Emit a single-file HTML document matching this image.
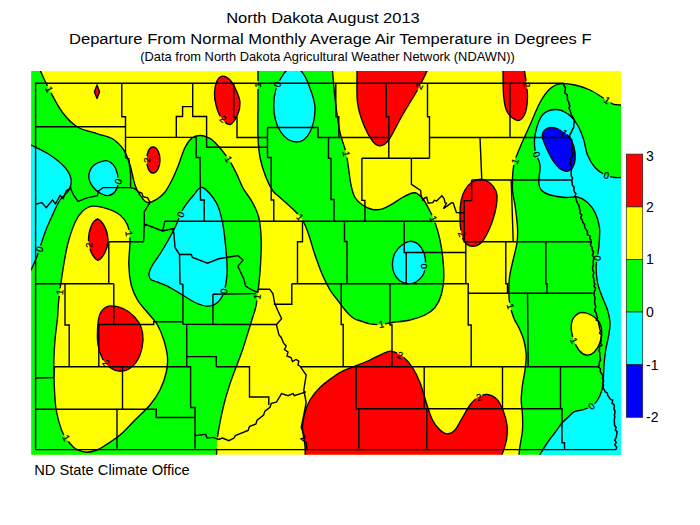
<!DOCTYPE html>
<html><head><meta charset="utf-8"><title>ND Climate</title>
<style>html,body{margin:0;padding:0;background:#fff}svg{display:block}text{font-family:"Liberation Sans",sans-serif;fill:#000}</style></head>
<body>
<svg width="700" height="525" viewBox="0 0 700 525">
<rect width="700" height="525" fill="#fff"/>
<defs><clipPath id="m"><rect x="31.2" y="71.1" width="589.8" height="383.6"/></clipPath></defs>
<g clip-path="url(#m)">
<rect x="31.2" y="71.1" width="589.8" height="383.6" fill="#ffff00"/>
<mask id="lm" maskUnits="userSpaceOnUse" x="0" y="0" width="700" height="525"><rect width="700" height="525" fill="#fff"/>
<circle cx="49.2" cy="89.3" r="3.9" fill="#000"/>
<circle cx="146.75" cy="160" r="3.9" fill="#000"/>
<circle cx="118.2" cy="181.4" r="3.9" fill="#000"/>
<circle cx="222.9" cy="119.0" r="3.9" fill="#000"/>
<circle cx="258.0" cy="85.0" r="3.9" fill="#000"/>
<circle cx="277.3" cy="84.5" r="3.9" fill="#000"/>
<circle cx="228.5" cy="159.2" r="3.9" fill="#000"/>
<circle cx="346.2" cy="153.9" r="3.9" fill="#000"/>
<circle cx="419.3" cy="86.4" r="3.9" fill="#000"/>
<circle cx="526.5" cy="84.9" r="3.9" fill="#000"/>
<circle cx="607.2" cy="100.4" r="3.9" fill="#000"/>
<circle cx="562.9" cy="131.6" r="5.2" fill="#000"/>
<circle cx="536.5" cy="154.4" r="3.9" fill="#000"/>
<circle cx="515.1" cy="161.3" r="3.9" fill="#000"/>
<circle cx="606.5" cy="175.4" r="3.9" fill="#000"/>
<circle cx="180.6" cy="214.4" r="3.9" fill="#000"/>
<circle cx="129.0" cy="233.7" r="3.9" fill="#000"/>
<circle cx="88.75" cy="245" r="3.9" fill="#000"/>
<circle cx="39.5" cy="249.1" r="3.9" fill="#000"/>
<circle cx="59.8" cy="292.2" r="3.9" fill="#000"/>
<circle cx="300.1" cy="217.3" r="3.9" fill="#000"/>
<circle cx="224.0" cy="291.3" r="3.9" fill="#000"/>
<circle cx="257.3" cy="296.7" r="3.9" fill="#000"/>
<circle cx="424.25" cy="266.25" r="3.9" fill="#000"/>
<circle cx="433.4" cy="218.9" r="3.9" fill="#000"/>
<circle cx="461.9" cy="234.1" r="3.9" fill="#000"/>
<circle cx="597.2" cy="258.1" r="3.9" fill="#000"/>
<circle cx="510.4" cy="306.3" r="3.9" fill="#000"/>
<circle cx="106.2" cy="363.1" r="3.9" fill="#000"/>
<circle cx="66.2" cy="438.0" r="3.9" fill="#000"/>
<circle cx="381.3" cy="324.3" r="3.9" fill="#000"/>
<circle cx="400.2" cy="355.2" r="3.9" fill="#000"/>
<circle cx="479.0" cy="397.1" r="3.9" fill="#000"/>
<circle cx="574.0" cy="340.6" r="3.9" fill="#000"/>
<circle cx="591.5" cy="406.1" r="3.9" fill="#000"/>
<ellipse cx="217.3" cy="443" rx="3" ry="6" fill="#000"/>
</mask>
<g>
<path fill="#00ff00" d="M40.5,68.0 C40.5,68.5 38.9,67.2 40.5,71.0 C42.1,74.8 46.3,84.1 50.0,91.0 C53.7,97.9 57.9,106.5 62.5,112.5 C67.1,118.5 71.7,123.5 77.5,127.0 C83.3,130.5 91.7,131.8 97.5,133.8 C103.3,135.7 108.1,136.0 112.5,138.8 C116.9,141.5 120.8,145.6 123.8,150.0 C126.7,154.4 128.1,159.2 130.0,165.0 C131.9,170.8 133.3,180.0 135.0,185.0 C136.7,190.0 137.9,192.1 140.0,195.0 C142.1,197.9 144.6,201.9 147.5,202.5 C150.4,203.1 154.6,200.5 157.5,198.8 C160.4,197.0 162.6,195.1 165.0,192.0 C167.4,188.9 169.9,184.1 172.0,180.0 C174.1,175.9 175.3,172.9 177.5,167.5 C179.7,162.1 182.6,152.4 185.0,147.5 C187.4,142.6 189.5,140.0 192.0,138.0 C194.5,136.0 197.3,135.6 200.0,135.5 C202.7,135.4 205.5,136.3 208.0,137.5 C210.5,138.7 211.8,139.2 215.0,142.5 C218.2,145.8 224.0,152.5 227.5,157.5 C231.0,162.5 233.4,167.4 236.0,172.5 C238.6,177.6 240.2,183.0 243.0,188.0 C245.8,193.0 249.9,197.6 252.5,202.5 C255.1,207.4 257.3,211.2 258.8,217.5 C260.2,223.8 261.0,232.1 261.2,240.0 C261.5,247.9 260.9,257.5 260.5,265.0 C260.1,272.5 259.5,278.3 258.8,285.0 C258.0,291.7 257.3,299.5 256.2,305.0 C255.2,310.5 253.8,313.8 252.5,318.0 C251.2,322.2 250.4,324.7 248.8,330.0 C247.1,335.3 244.8,343.3 242.5,350.0 C240.2,356.7 237.3,363.8 235.0,370.0 C232.7,376.2 230.6,381.7 228.8,387.5 C226.9,393.3 225.2,399.2 223.8,405.0 C222.3,410.8 221.0,417.1 220.0,422.5 C219.0,427.9 218.1,432.2 217.5,437.5 C216.9,442.8 216.7,451.1 216.5,454.5 C216.3,457.9 216.5,457.4 216.5,458.0 L26.2,459.7 L26.2,66.1Z"/>
<path fill="#00ff00" d="M258.0,66.0 C258.0,71.7 258.0,88.1 258.0,100.0 C258.0,111.9 257.7,127.9 258.0,137.5 C258.3,147.1 258.7,150.8 260.0,157.5 C261.3,164.2 263.8,171.9 266.0,177.5 C268.2,183.1 270.7,187.7 273.0,191.0 C275.3,194.3 276.8,194.5 280.0,197.5 C283.2,200.5 288.8,205.0 292.5,208.8 C296.2,212.5 299.8,215.6 302.5,220.0 C305.2,224.4 306.7,229.2 308.8,235.0 C310.8,240.8 312.7,248.3 315.0,255.0 C317.3,261.7 320.0,269.2 322.5,275.0 C325.0,280.8 327.5,285.8 330.0,290.0 C332.5,294.2 335.0,296.7 337.5,300.0 C340.0,303.3 342.5,307.1 345.0,310.0 C347.5,312.9 350.4,315.8 352.5,317.5 C354.6,319.2 354.6,319.0 357.5,320.0 C360.4,321.0 366.2,323.0 370.0,323.8 C373.8,324.5 376.2,324.7 380.0,324.5 C383.8,324.3 387.5,323.2 392.5,322.5 C397.5,321.8 404.6,321.2 410.0,320.0 C415.4,318.8 420.8,317.1 425.0,315.0 C429.2,312.9 432.3,310.8 435.0,307.5 C437.7,304.2 439.8,300.0 441.2,295.0 C442.7,290.0 443.5,283.3 443.8,277.5 C444.0,271.7 443.6,266.2 443.0,260.0 C442.4,253.8 441.3,246.2 440.0,240.0 C438.7,233.8 436.7,227.3 435.0,222.5 C433.3,217.7 431.9,215.0 430.0,211.2 C428.1,207.5 425.8,202.9 423.8,200.0 C421.7,197.1 419.4,194.9 417.5,193.8 C415.6,192.6 415.0,192.4 412.5,193.0 C410.0,193.6 405.8,195.7 402.5,197.5 C399.2,199.3 395.8,201.9 392.5,203.8 C389.2,205.6 385.8,207.8 382.5,208.8 C379.2,209.7 375.8,210.1 372.5,209.5 C369.2,208.9 365.4,207.0 362.5,205.0 C359.6,203.0 356.9,200.8 355.0,197.5 C353.1,194.2 352.0,189.6 351.0,185.0 C350.0,180.4 349.6,175.4 348.8,170.0 C347.9,164.6 347.5,158.8 346.0,152.5 C344.5,146.2 341.8,140.8 340.0,132.5 C338.2,124.2 336.8,112.8 335.5,102.5 C334.2,92.2 333.1,77.1 332.5,71.0 C331.9,64.9 332.1,66.8 332.0,66.0Z"/>
<path fill="#00ff00" d="M518.5,458.0 C518.6,457.4 518.8,456.5 519.0,454.5 C519.2,452.5 519.4,450.1 520.0,446.0 C520.6,441.9 522.1,435.2 522.5,430.0 C522.9,424.8 522.7,420.0 522.5,415.0 C522.3,410.0 521.2,405.0 521.2,400.0 C521.2,395.0 521.9,390.0 522.5,385.0 C523.1,380.0 524.4,375.0 525.0,370.0 C525.6,365.0 526.5,360.0 526.2,355.0 C526.0,350.0 525.0,344.6 523.8,340.0 C522.5,335.4 520.4,331.2 518.8,327.5 C517.1,323.8 515.2,321.8 513.8,318.0 C512.3,314.2 510.8,309.2 510.0,305.0 C509.2,300.8 508.8,297.1 508.8,292.5 C508.7,287.9 508.9,282.5 509.5,277.5 C510.1,272.5 511.2,268.3 512.5,262.5 C513.8,256.7 516.2,248.3 517.0,242.5 C517.8,236.7 517.8,233.8 517.5,227.5 C517.2,221.2 515.8,211.2 515.0,205.0 C514.2,198.8 512.7,196.7 512.5,190.0 C512.3,183.3 512.5,172.1 513.8,165.0 C515.0,157.9 517.3,154.2 520.0,147.5 C522.7,140.8 526.7,132.5 530.0,125.0 C533.3,117.5 536.7,108.5 540.0,102.5 C543.3,96.5 546.7,91.9 550.0,88.8 C553.3,85.6 555.8,84.4 560.0,83.8 C564.2,83.1 570.0,84.0 575.0,85.0 C580.0,86.0 585.4,87.9 590.0,90.0 C594.6,92.1 598.8,95.2 602.5,97.5 C606.2,99.8 609.4,102.5 612.5,103.8 C615.6,105.0 618.8,104.8 621.0,105.0 C623.2,105.2 625.2,105.0 626.0,105.0 L626,459.7Z"/>
<path fill="#ffff00" d="M86.7,452.2 C83.5,452.2 80.3,450.9 78.0,450.0 C75.7,449.1 74.8,448.4 73.0,446.7 C71.2,445.0 69.2,442.8 67.3,440.0 C65.4,437.2 63.3,435.0 61.5,430.0 C59.7,425.0 57.4,416.7 56.2,410.0 C55.1,403.3 54.9,397.5 54.5,390.0 C54.1,382.5 53.7,373.3 53.8,365.0 C53.8,356.7 54.4,347.8 55.0,340.0 C55.6,332.2 56.9,324.7 57.5,318.0 C58.1,311.3 57.9,307.6 58.8,300.0 C59.6,292.4 61.0,281.7 62.5,272.5 C64.0,263.3 65.4,253.3 67.5,245.0 C69.6,236.7 72.5,228.1 75.0,222.5 C77.5,216.9 79.6,214.0 82.5,211.2 C85.4,208.5 88.3,206.7 92.5,206.2 C96.7,205.8 102.9,207.3 107.5,208.8 C112.1,210.2 116.7,212.3 120.0,215.0 C123.3,217.7 125.8,220.8 127.5,225.0 C129.2,229.2 129.8,233.3 130.0,240.0 C130.2,246.7 128.5,257.5 128.8,265.0 C129.0,272.5 129.8,279.2 131.2,285.0 C132.7,290.8 134.8,295.4 137.5,300.0 C140.2,304.6 144.2,308.3 147.5,312.5 C150.8,316.7 154.8,320.4 157.5,325.0 C160.2,329.6 162.1,334.6 163.8,340.0 C165.4,345.4 167.1,352.1 167.5,357.5 C167.9,362.9 167.5,367.1 166.2,372.5 C165.0,377.9 162.7,384.6 160.0,390.0 C157.3,395.4 154.2,400.0 150.0,405.0 C145.8,410.0 140.0,415.0 135.0,420.0 C130.0,425.0 125.0,430.8 120.0,435.0 C115.0,439.2 108.8,443.0 105.0,445.5 C101.2,448.0 100.0,448.9 97.0,450.0 C94.0,451.1 89.9,452.2 86.7,452.2Z"/>
<path fill="#ffff00" d="M582.5,312.5 C586.0,312.5 591.9,315.0 595.0,317.5 C598.1,320.0 600.4,323.3 601.2,327.5 C602.1,331.7 601.2,338.3 600.0,342.5 C598.8,346.7 596.0,350.4 593.8,352.5 C591.5,354.6 588.8,355.4 586.2,355.0 C583.8,354.6 580.8,352.5 578.8,350.0 C576.7,347.5 575.0,343.8 573.8,340.0 C572.5,336.2 571.2,331.2 571.2,327.5 C571.2,323.8 571.9,320.0 573.8,317.5 C575.6,315.0 579.0,312.5 582.5,312.5Z"/>
<path fill="#00ffff" d="M26.0,142.0 C26.8,142.5 27.0,142.8 31.0,145.0 C35.0,147.2 44.3,151.2 50.0,155.0 C55.7,158.8 61.5,163.5 65.0,167.5 C68.5,171.5 70.3,175.2 71.0,179.0 C71.7,182.8 70.8,186.5 69.0,190.0 C67.2,193.5 62.8,195.8 60.0,200.0 C57.2,204.2 55.0,209.6 52.5,215.0 C50.0,220.4 47.5,225.8 45.0,232.5 C42.5,239.2 39.8,248.8 37.5,255.0 C35.2,261.2 32.9,265.8 31.0,270.0 C29.1,274.2 26.8,278.3 26.0,280.0Z"/>
<path fill="#00ffff" d="M104.0,160.8 C101.2,161.4 95.5,163.3 93.0,166.0 C90.5,168.7 88.8,173.5 88.8,177.0 C88.8,180.5 91.1,184.3 93.0,187.0 C94.9,189.7 97.5,191.6 100.0,193.0 C102.5,194.4 105.4,195.9 108.0,195.6 C110.6,195.3 113.8,193.4 115.5,191.0 C117.2,188.6 118.3,184.8 118.3,181.0 C118.3,177.2 116.9,171.2 115.5,168.0 C114.1,164.8 111.9,163.2 110.0,162.0 C108.1,160.8 106.8,160.1 104.0,160.8Z"/>
<path fill="#00ffff" d="M202.5,187.5 C206.2,188.8 212.9,196.7 216.2,202.5 C219.6,208.3 220.8,214.2 222.5,222.5 C224.2,230.8 225.5,243.8 226.2,252.5 C227.0,261.2 227.4,268.3 227.0,275.0 C226.6,281.7 225.3,287.9 223.8,292.5 C222.2,297.1 220.2,300.2 217.5,302.5 C214.8,304.8 211.2,306.2 207.5,306.2 C203.8,306.2 199.2,304.4 195.0,302.5 C190.8,300.6 187.1,297.7 182.5,295.0 C177.9,292.3 171.7,288.4 167.5,286.2 C163.3,284.1 160.2,283.1 157.4,282.0 C154.6,280.9 152.3,280.8 150.9,279.6 C149.5,278.4 149.1,276.4 148.9,275.0 C148.7,273.6 149.1,272.7 149.7,271.0 C150.3,269.3 150.4,268.5 152.5,265.0 C154.6,261.5 158.8,256.2 162.5,250.0 C166.2,243.8 171.7,234.2 175.0,227.5 C178.3,220.8 179.4,215.4 182.5,210.0 C185.6,204.6 190.4,198.8 193.8,195.0 C197.1,191.2 198.8,186.2 202.5,187.5Z"/>
<path fill="#00ffff" d="M293.5,67 C300,67 306,76 309.5,87 C313,96 315,102 315,108 C315,126 308,142 297,142 C284,142 273.75,126 273.75,106 C273.75,95 277,84 281,78 C285,71 289,67 293.5,67Z"/>
<path fill="#00ffff" d="M410.0,241.3 C412.7,241.1 415.7,242.1 418.0,244.0 C420.3,245.9 422.8,249.7 424.0,253.0 C425.2,256.3 425.7,260.3 425.5,264.0 C425.3,267.7 424.6,272.0 423.0,275.0 C421.4,278.0 418.5,280.5 416.0,282.0 C413.5,283.5 410.7,283.9 408.0,283.8 C405.3,283.6 402.3,282.8 400.0,281.0 C397.7,279.2 395.2,276.0 394.0,273.0 C392.8,270.0 392.3,266.3 392.5,263.0 C392.7,259.7 393.4,256.0 395.0,253.0 C396.6,250.0 399.5,246.9 402.0,245.0 C404.5,243.1 407.3,241.5 410.0,241.3Z"/>
<path fill="#00ffff" d="M626.0,177.5 C625.2,177.5 622.8,177.5 621.0,177.5 C619.2,177.5 617.7,177.9 615.0,177.5 C612.3,177.1 608.3,176.7 605.0,175.0 C601.7,173.3 597.9,170.8 595.0,167.5 C592.1,164.2 589.4,159.6 587.5,155.0 C585.6,150.4 585.4,145.0 583.8,140.0 C582.1,135.0 580.2,129.4 577.5,125.0 C574.8,120.6 571.2,116.3 567.5,113.8 C563.8,111.2 559.2,109.3 555.0,109.5 C550.8,109.7 545.8,111.2 542.5,115.0 C539.2,118.8 536.8,126.7 535.5,132.5 C534.2,138.3 534.2,144.6 535.0,150.0 C535.8,155.4 539.4,159.6 540.0,165.0 C540.6,170.4 538.5,178.3 538.8,182.5 C539.0,186.7 539.4,187.9 541.2,190.0 C543.1,192.1 546.0,193.8 550.0,195.0 C554.0,196.2 560.4,197.2 565.0,197.5 C569.6,197.8 573.8,196.2 577.5,197.0 C581.2,197.8 584.6,199.9 587.5,202.5 C590.4,205.1 593.0,208.3 595.0,212.5 C597.0,216.7 598.9,221.7 599.5,227.5 C600.1,233.3 599.3,241.2 598.8,247.5 C598.2,253.8 596.5,259.2 596.2,265.0 C596.0,270.8 596.5,277.1 597.5,282.5 C598.5,287.9 600.8,292.9 602.5,297.5 C604.2,302.1 606.2,305.8 607.5,310.0 C608.8,314.2 609.8,318.3 610.0,322.5 C610.2,326.7 609.5,330.4 608.8,335.0 C608.0,339.6 606.5,345.0 605.7,350.0 C604.9,355.0 604.4,360.0 604.0,365.0 C603.6,370.0 603.6,375.8 603.3,380.0 C603.0,384.2 603.0,386.5 602.0,390.0 C601.0,393.5 598.8,398.2 597.0,401.0 C595.2,403.8 593.3,405.1 591.0,406.5 C588.7,407.9 585.8,408.8 583.0,409.7 C580.2,410.6 576.4,410.6 574.0,411.8 C571.6,413.0 570.4,415.1 568.4,417.0 C566.4,418.9 564.2,420.4 562.0,423.0 C559.8,425.6 557.4,429.2 555.0,432.5 C552.6,435.8 550.0,438.8 547.5,442.5 C545.0,446.2 541.6,451.9 540.0,454.5 C538.4,457.1 538.3,457.4 538.0,458.0 L626,459.7Z"/>
<path fill="#0000ff" d="M543.8,131.2 C545.2,129.6 548.1,127.5 551.2,127.5 C554.4,127.5 559.2,129.2 562.5,131.2 C565.8,133.3 569.2,136.5 571.2,140.0 C573.3,143.5 574.6,148.3 575.0,152.5 C575.4,156.7 575.0,161.9 573.8,165.0 C572.5,168.1 569.8,170.6 567.5,171.2 C565.2,171.9 562.5,170.6 560.0,168.8 C557.5,166.9 554.8,163.5 552.5,160.0 C550.2,156.5 547.9,151.2 546.2,147.5 C544.6,143.8 542.9,140.2 542.5,137.5 C542.1,134.8 542.3,132.9 543.8,131.2Z"/>
<path fill="#ff0000" d="M97,85 L99.6,91.75 L97,98.5 L94.4,91.75Z"/>
<path fill="#ff0000" d="M153,147 C157,147 160,153 160,160 C160,167 157,173 153,173 C149,173 146.75,167 146.75,160 C146.75,153 149,147 153,147Z"/>
<path fill="#ff0000" d="M222.5,76.2 C224.7,76.1 227.8,77.7 230.0,80.0 C232.2,82.3 234.3,86.2 236.0,90.0 C237.7,93.8 239.8,98.3 240.0,102.5 C240.2,106.7 239.2,111.3 237.5,115.0 C235.8,118.7 232.8,124.1 230.0,124.5 C227.2,124.9 223.3,120.8 221.0,117.5 C218.7,114.2 217.1,109.2 216.0,105.0 C214.9,100.8 214.3,96.5 214.5,92.5 C214.7,88.5 215.7,83.7 217.0,81.0 C218.3,78.3 220.3,76.4 222.5,76.2Z"/>
<path fill="#ff0000" d="M357.0,60.0 C357.0,61.8 356.9,63.9 357.0,71.0 C357.1,78.1 356.4,93.5 357.5,102.5 C358.6,111.5 361.2,118.6 363.8,125.0 C366.2,131.4 369.8,137.5 372.5,141.0 C375.2,144.5 377.3,145.9 380.0,145.8 C382.7,145.6 385.0,145.1 388.8,140.0 C392.5,134.9 397.7,123.3 402.5,115.0 C407.3,106.7 413.4,97.3 417.5,90.0 C421.6,82.7 424.6,76.0 427.0,71.0 C429.4,66.0 431.2,61.8 432.0,60.0Z"/>
<path fill="#ff0000" d="M503.0,60.0 C503.0,61.8 502.9,64.8 503.0,71.0 C503.1,77.2 503.0,90.6 503.8,97.5 C504.5,104.4 505.2,108.7 507.5,112.5 C509.8,116.3 514.6,120.3 517.5,120.5 C520.4,120.7 523.3,117.6 525.0,113.8 C526.7,109.9 527.3,102.7 527.5,97.5 C527.7,92.3 526.8,86.9 526.2,82.5 C525.8,78.1 525.0,74.8 524.5,71.0 C524.0,67.2 523.2,61.8 523.0,60.0Z"/>
<path fill="#ff0000" d="M481.2,179.2 C484.2,179.4 487.5,181.0 490.0,183.0 C492.5,185.0 494.8,188.2 496.0,191.0 C497.2,193.8 497.2,196.4 497.0,200.0 C496.8,203.6 496.2,207.9 495.0,212.5 C493.8,217.1 492.1,222.7 490.0,227.5 C487.9,232.3 485.2,238.1 482.5,241.2 C479.8,244.4 476.7,246.0 473.8,246.2 C470.8,246.5 467.1,244.8 465.0,242.5 C462.9,240.2 462.1,237.1 461.2,232.5 C460.4,227.9 460.0,220.4 460.0,215.0 C460.0,209.6 460.4,204.2 461.2,200.0 C462.1,195.8 463.2,193.0 465.0,190.0 C466.8,187.0 469.3,183.8 472.0,182.0 C474.7,180.2 478.2,179.1 481.2,179.2Z"/>
<path fill="#ff0000" d="M97.5,219 C102,220.5 107.5,229 108,240 C108,249 103,258 98,260.5 C93,258 88.5,249 88.5,240 C88.5,229 93,220.5 97.5,219Z"/>
<path fill="#ff0000" d="M108.8,306.2 C104.8,307.1 101.9,310.0 100.0,314.0 C98.1,318.0 97.8,324.8 97.5,330.0 C97.2,335.2 97.2,340.2 98.0,345.0 C98.8,349.8 100.5,355.0 102.5,358.8 C104.5,362.5 106.9,365.4 110.0,367.5 C113.1,369.6 117.5,371.5 121.2,371.2 C125.0,371.0 129.4,369.0 132.5,366.2 C135.6,363.5 138.2,359.4 140.0,355.0 C141.8,350.6 142.8,344.6 143.0,340.0 C143.2,335.4 142.6,331.2 141.2,327.5 C139.9,323.8 137.9,320.6 135.0,317.5 C132.1,314.4 128.4,310.9 124.0,309.0 C119.6,307.1 112.8,305.4 108.8,306.2Z"/>
<path fill="#ff0000" d="M305.0,458.0 C305.0,456.0 305.4,451.1 305.0,446.0 C304.6,440.9 302.5,433.1 302.5,427.5 C302.5,421.9 303.8,417.1 305.0,412.5 C306.2,407.9 307.5,404.2 310.0,400.0 C312.5,395.8 316.2,391.2 320.0,387.5 C323.8,383.8 328.8,380.2 332.5,377.5 C336.2,374.8 338.8,373.1 342.5,371.2 C346.2,369.4 350.4,368.1 355.0,366.2 C359.6,364.4 365.4,362.1 370.0,360.0 C374.6,357.9 379.0,355.2 382.5,353.8 C386.0,352.3 387.9,350.8 391.2,351.2 C394.6,351.7 399.0,353.5 402.5,356.2 C406.0,359.0 409.6,363.1 412.5,367.5 C415.4,371.9 417.7,376.7 420.0,382.5 C422.3,388.3 424.2,396.2 426.2,402.5 C428.3,408.8 430.2,415.4 432.5,420.0 C434.8,424.6 437.5,427.7 440.0,430.0 C442.5,432.3 445.0,433.8 447.5,433.8 C450.0,433.8 452.5,432.7 455.0,430.0 C457.5,427.3 460.0,421.7 462.5,417.5 C465.0,413.3 467.5,408.3 470.0,405.0 C472.5,401.7 474.6,399.2 477.5,397.5 C480.4,395.8 484.2,394.1 487.5,394.5 C490.8,394.9 494.8,397.0 497.5,400.0 C500.2,403.0 502.2,408.3 503.8,412.5 C505.3,416.7 506.5,420.4 507.0,425.0 C507.5,429.6 507.2,435.5 506.5,440.0 C505.8,444.5 504.0,449.0 503.0,452.0 C502.0,455.0 500.9,457.0 500.5,458.0Z"/>
</g>
<g fill="none" stroke="#000" stroke-width="1.35" stroke-linejoin="round" mask="url(#lm)">
<path d="M40.5,68.0 C40.5,68.5 38.9,67.2 40.5,71.0 C42.1,74.8 46.3,84.1 50.0,91.0 C53.7,97.9 57.9,106.5 62.5,112.5 C67.1,118.5 71.7,123.5 77.5,127.0 C83.3,130.5 91.7,131.8 97.5,133.8 C103.3,135.7 108.1,136.0 112.5,138.8 C116.9,141.5 120.8,145.6 123.8,150.0 C126.7,154.4 128.1,159.2 130.0,165.0 C131.9,170.8 133.3,180.0 135.0,185.0 C136.7,190.0 137.9,192.1 140.0,195.0 C142.1,197.9 144.6,201.9 147.5,202.5 C150.4,203.1 154.6,200.5 157.5,198.8 C160.4,197.0 162.6,195.1 165.0,192.0 C167.4,188.9 169.9,184.1 172.0,180.0 C174.1,175.9 175.3,172.9 177.5,167.5 C179.7,162.1 182.6,152.4 185.0,147.5 C187.4,142.6 189.5,140.0 192.0,138.0 C194.5,136.0 197.3,135.6 200.0,135.5 C202.7,135.4 205.5,136.3 208.0,137.5 C210.5,138.7 211.8,139.2 215.0,142.5 C218.2,145.8 224.0,152.5 227.5,157.5 C231.0,162.5 233.4,167.4 236.0,172.5 C238.6,177.6 240.2,183.0 243.0,188.0 C245.8,193.0 249.9,197.6 252.5,202.5 C255.1,207.4 257.3,211.2 258.8,217.5 C260.2,223.8 261.0,232.1 261.2,240.0 C261.5,247.9 260.9,257.5 260.5,265.0 C260.1,272.5 259.5,278.3 258.8,285.0 C258.0,291.7 257.3,299.5 256.2,305.0 C255.2,310.5 253.8,313.8 252.5,318.0 C251.2,322.2 250.4,324.7 248.8,330.0 C247.1,335.3 244.8,343.3 242.5,350.0 C240.2,356.7 237.3,363.8 235.0,370.0 C232.7,376.2 230.6,381.7 228.8,387.5 C226.9,393.3 225.2,399.2 223.8,405.0 C222.3,410.8 221.0,417.1 220.0,422.5 C219.0,427.9 218.1,432.2 217.5,437.5 C216.9,442.8 216.7,451.1 216.5,454.5 C216.3,457.9 216.5,457.4 216.5,458.0 L26.2,459.7 L26.2,66.1Z"/>
<path d="M258.0,66.0 C258.0,71.7 258.0,88.1 258.0,100.0 C258.0,111.9 257.7,127.9 258.0,137.5 C258.3,147.1 258.7,150.8 260.0,157.5 C261.3,164.2 263.8,171.9 266.0,177.5 C268.2,183.1 270.7,187.7 273.0,191.0 C275.3,194.3 276.8,194.5 280.0,197.5 C283.2,200.5 288.8,205.0 292.5,208.8 C296.2,212.5 299.8,215.6 302.5,220.0 C305.2,224.4 306.7,229.2 308.8,235.0 C310.8,240.8 312.7,248.3 315.0,255.0 C317.3,261.7 320.0,269.2 322.5,275.0 C325.0,280.8 327.5,285.8 330.0,290.0 C332.5,294.2 335.0,296.7 337.5,300.0 C340.0,303.3 342.5,307.1 345.0,310.0 C347.5,312.9 350.4,315.8 352.5,317.5 C354.6,319.2 354.6,319.0 357.5,320.0 C360.4,321.0 366.2,323.0 370.0,323.8 C373.8,324.5 376.2,324.7 380.0,324.5 C383.8,324.3 387.5,323.2 392.5,322.5 C397.5,321.8 404.6,321.2 410.0,320.0 C415.4,318.8 420.8,317.1 425.0,315.0 C429.2,312.9 432.3,310.8 435.0,307.5 C437.7,304.2 439.8,300.0 441.2,295.0 C442.7,290.0 443.5,283.3 443.8,277.5 C444.0,271.7 443.6,266.2 443.0,260.0 C442.4,253.8 441.3,246.2 440.0,240.0 C438.7,233.8 436.7,227.3 435.0,222.5 C433.3,217.7 431.9,215.0 430.0,211.2 C428.1,207.5 425.8,202.9 423.8,200.0 C421.7,197.1 419.4,194.9 417.5,193.8 C415.6,192.6 415.0,192.4 412.5,193.0 C410.0,193.6 405.8,195.7 402.5,197.5 C399.2,199.3 395.8,201.9 392.5,203.8 C389.2,205.6 385.8,207.8 382.5,208.8 C379.2,209.7 375.8,210.1 372.5,209.5 C369.2,208.9 365.4,207.0 362.5,205.0 C359.6,203.0 356.9,200.8 355.0,197.5 C353.1,194.2 352.0,189.6 351.0,185.0 C350.0,180.4 349.6,175.4 348.8,170.0 C347.9,164.6 347.5,158.8 346.0,152.5 C344.5,146.2 341.8,140.8 340.0,132.5 C338.2,124.2 336.8,112.8 335.5,102.5 C334.2,92.2 333.1,77.1 332.5,71.0 C331.9,64.9 332.1,66.8 332.0,66.0Z"/>
<path d="M518.5,458.0 C518.6,457.4 518.8,456.5 519.0,454.5 C519.2,452.5 519.4,450.1 520.0,446.0 C520.6,441.9 522.1,435.2 522.5,430.0 C522.9,424.8 522.7,420.0 522.5,415.0 C522.3,410.0 521.2,405.0 521.2,400.0 C521.2,395.0 521.9,390.0 522.5,385.0 C523.1,380.0 524.4,375.0 525.0,370.0 C525.6,365.0 526.5,360.0 526.2,355.0 C526.0,350.0 525.0,344.6 523.8,340.0 C522.5,335.4 520.4,331.2 518.8,327.5 C517.1,323.8 515.2,321.8 513.8,318.0 C512.3,314.2 510.8,309.2 510.0,305.0 C509.2,300.8 508.8,297.1 508.8,292.5 C508.7,287.9 508.9,282.5 509.5,277.5 C510.1,272.5 511.2,268.3 512.5,262.5 C513.8,256.7 516.2,248.3 517.0,242.5 C517.8,236.7 517.8,233.8 517.5,227.5 C517.2,221.2 515.8,211.2 515.0,205.0 C514.2,198.8 512.7,196.7 512.5,190.0 C512.3,183.3 512.5,172.1 513.8,165.0 C515.0,157.9 517.3,154.2 520.0,147.5 C522.7,140.8 526.7,132.5 530.0,125.0 C533.3,117.5 536.7,108.5 540.0,102.5 C543.3,96.5 546.7,91.9 550.0,88.8 C553.3,85.6 555.8,84.4 560.0,83.8 C564.2,83.1 570.0,84.0 575.0,85.0 C580.0,86.0 585.4,87.9 590.0,90.0 C594.6,92.1 598.8,95.2 602.5,97.5 C606.2,99.8 609.4,102.5 612.5,103.8 C615.6,105.0 618.8,104.8 621.0,105.0 C623.2,105.2 625.2,105.0 626.0,105.0 L626,459.7Z"/>
<path d="M86.7,452.2 C83.5,452.2 80.3,450.9 78.0,450.0 C75.7,449.1 74.8,448.4 73.0,446.7 C71.2,445.0 69.2,442.8 67.3,440.0 C65.4,437.2 63.3,435.0 61.5,430.0 C59.7,425.0 57.4,416.7 56.2,410.0 C55.1,403.3 54.9,397.5 54.5,390.0 C54.1,382.5 53.7,373.3 53.8,365.0 C53.8,356.7 54.4,347.8 55.0,340.0 C55.6,332.2 56.9,324.7 57.5,318.0 C58.1,311.3 57.9,307.6 58.8,300.0 C59.6,292.4 61.0,281.7 62.5,272.5 C64.0,263.3 65.4,253.3 67.5,245.0 C69.6,236.7 72.5,228.1 75.0,222.5 C77.5,216.9 79.6,214.0 82.5,211.2 C85.4,208.5 88.3,206.7 92.5,206.2 C96.7,205.8 102.9,207.3 107.5,208.8 C112.1,210.2 116.7,212.3 120.0,215.0 C123.3,217.7 125.8,220.8 127.5,225.0 C129.2,229.2 129.8,233.3 130.0,240.0 C130.2,246.7 128.5,257.5 128.8,265.0 C129.0,272.5 129.8,279.2 131.2,285.0 C132.7,290.8 134.8,295.4 137.5,300.0 C140.2,304.6 144.2,308.3 147.5,312.5 C150.8,316.7 154.8,320.4 157.5,325.0 C160.2,329.6 162.1,334.6 163.8,340.0 C165.4,345.4 167.1,352.1 167.5,357.5 C167.9,362.9 167.5,367.1 166.2,372.5 C165.0,377.9 162.7,384.6 160.0,390.0 C157.3,395.4 154.2,400.0 150.0,405.0 C145.8,410.0 140.0,415.0 135.0,420.0 C130.0,425.0 125.0,430.8 120.0,435.0 C115.0,439.2 108.8,443.0 105.0,445.5 C101.2,448.0 100.0,448.9 97.0,450.0 C94.0,451.1 89.9,452.2 86.7,452.2Z"/>
<path d="M582.5,312.5 C586.0,312.5 591.9,315.0 595.0,317.5 C598.1,320.0 600.4,323.3 601.2,327.5 C602.1,331.7 601.2,338.3 600.0,342.5 C598.8,346.7 596.0,350.4 593.8,352.5 C591.5,354.6 588.8,355.4 586.2,355.0 C583.8,354.6 580.8,352.5 578.8,350.0 C576.7,347.5 575.0,343.8 573.8,340.0 C572.5,336.2 571.2,331.2 571.2,327.5 C571.2,323.8 571.9,320.0 573.8,317.5 C575.6,315.0 579.0,312.5 582.5,312.5Z"/>
<path d="M26.0,142.0 C26.8,142.5 27.0,142.8 31.0,145.0 C35.0,147.2 44.3,151.2 50.0,155.0 C55.7,158.8 61.5,163.5 65.0,167.5 C68.5,171.5 70.3,175.2 71.0,179.0 C71.7,182.8 70.8,186.5 69.0,190.0 C67.2,193.5 62.8,195.8 60.0,200.0 C57.2,204.2 55.0,209.6 52.5,215.0 C50.0,220.4 47.5,225.8 45.0,232.5 C42.5,239.2 39.8,248.8 37.5,255.0 C35.2,261.2 32.9,265.8 31.0,270.0 C29.1,274.2 26.8,278.3 26.0,280.0Z"/>
<path d="M104.0,160.8 C101.2,161.4 95.5,163.3 93.0,166.0 C90.5,168.7 88.8,173.5 88.8,177.0 C88.8,180.5 91.1,184.3 93.0,187.0 C94.9,189.7 97.5,191.6 100.0,193.0 C102.5,194.4 105.4,195.9 108.0,195.6 C110.6,195.3 113.8,193.4 115.5,191.0 C117.2,188.6 118.3,184.8 118.3,181.0 C118.3,177.2 116.9,171.2 115.5,168.0 C114.1,164.8 111.9,163.2 110.0,162.0 C108.1,160.8 106.8,160.1 104.0,160.8Z"/>
<path d="M202.5,187.5 C206.2,188.8 212.9,196.7 216.2,202.5 C219.6,208.3 220.8,214.2 222.5,222.5 C224.2,230.8 225.5,243.8 226.2,252.5 C227.0,261.2 227.4,268.3 227.0,275.0 C226.6,281.7 225.3,287.9 223.8,292.5 C222.2,297.1 220.2,300.2 217.5,302.5 C214.8,304.8 211.2,306.2 207.5,306.2 C203.8,306.2 199.2,304.4 195.0,302.5 C190.8,300.6 187.1,297.7 182.5,295.0 C177.9,292.3 171.7,288.4 167.5,286.2 C163.3,284.1 160.2,283.1 157.4,282.0 C154.6,280.9 152.3,280.8 150.9,279.6 C149.5,278.4 149.1,276.4 148.9,275.0 C148.7,273.6 149.1,272.7 149.7,271.0 C150.3,269.3 150.4,268.5 152.5,265.0 C154.6,261.5 158.8,256.2 162.5,250.0 C166.2,243.8 171.7,234.2 175.0,227.5 C178.3,220.8 179.4,215.4 182.5,210.0 C185.6,204.6 190.4,198.8 193.8,195.0 C197.1,191.2 198.8,186.2 202.5,187.5Z"/>
<path d="M293.5,67 C300,67 306,76 309.5,87 C313,96 315,102 315,108 C315,126 308,142 297,142 C284,142 273.75,126 273.75,106 C273.75,95 277,84 281,78 C285,71 289,67 293.5,67Z"/>
<path d="M410.0,241.3 C412.7,241.1 415.7,242.1 418.0,244.0 C420.3,245.9 422.8,249.7 424.0,253.0 C425.2,256.3 425.7,260.3 425.5,264.0 C425.3,267.7 424.6,272.0 423.0,275.0 C421.4,278.0 418.5,280.5 416.0,282.0 C413.5,283.5 410.7,283.9 408.0,283.8 C405.3,283.6 402.3,282.8 400.0,281.0 C397.7,279.2 395.2,276.0 394.0,273.0 C392.8,270.0 392.3,266.3 392.5,263.0 C392.7,259.7 393.4,256.0 395.0,253.0 C396.6,250.0 399.5,246.9 402.0,245.0 C404.5,243.1 407.3,241.5 410.0,241.3Z"/>
<path d="M626.0,177.5 C625.2,177.5 622.8,177.5 621.0,177.5 C619.2,177.5 617.7,177.9 615.0,177.5 C612.3,177.1 608.3,176.7 605.0,175.0 C601.7,173.3 597.9,170.8 595.0,167.5 C592.1,164.2 589.4,159.6 587.5,155.0 C585.6,150.4 585.4,145.0 583.8,140.0 C582.1,135.0 580.2,129.4 577.5,125.0 C574.8,120.6 571.2,116.3 567.5,113.8 C563.8,111.2 559.2,109.3 555.0,109.5 C550.8,109.7 545.8,111.2 542.5,115.0 C539.2,118.8 536.8,126.7 535.5,132.5 C534.2,138.3 534.2,144.6 535.0,150.0 C535.8,155.4 539.4,159.6 540.0,165.0 C540.6,170.4 538.5,178.3 538.8,182.5 C539.0,186.7 539.4,187.9 541.2,190.0 C543.1,192.1 546.0,193.8 550.0,195.0 C554.0,196.2 560.4,197.2 565.0,197.5 C569.6,197.8 573.8,196.2 577.5,197.0 C581.2,197.8 584.6,199.9 587.5,202.5 C590.4,205.1 593.0,208.3 595.0,212.5 C597.0,216.7 598.9,221.7 599.5,227.5 C600.1,233.3 599.3,241.2 598.8,247.5 C598.2,253.8 596.5,259.2 596.2,265.0 C596.0,270.8 596.5,277.1 597.5,282.5 C598.5,287.9 600.8,292.9 602.5,297.5 C604.2,302.1 606.2,305.8 607.5,310.0 C608.8,314.2 609.8,318.3 610.0,322.5 C610.2,326.7 609.5,330.4 608.8,335.0 C608.0,339.6 606.5,345.0 605.7,350.0 C604.9,355.0 604.4,360.0 604.0,365.0 C603.6,370.0 603.6,375.8 603.3,380.0 C603.0,384.2 603.0,386.5 602.0,390.0 C601.0,393.5 598.8,398.2 597.0,401.0 C595.2,403.8 593.3,405.1 591.0,406.5 C588.7,407.9 585.8,408.8 583.0,409.7 C580.2,410.6 576.4,410.6 574.0,411.8 C571.6,413.0 570.4,415.1 568.4,417.0 C566.4,418.9 564.2,420.4 562.0,423.0 C559.8,425.6 557.4,429.2 555.0,432.5 C552.6,435.8 550.0,438.8 547.5,442.5 C545.0,446.2 541.6,451.9 540.0,454.5 C538.4,457.1 538.3,457.4 538.0,458.0 L626,459.7Z"/>
<path d="M543.8,131.2 C545.2,129.6 548.1,127.5 551.2,127.5 C554.4,127.5 559.2,129.2 562.5,131.2 C565.8,133.3 569.2,136.5 571.2,140.0 C573.3,143.5 574.6,148.3 575.0,152.5 C575.4,156.7 575.0,161.9 573.8,165.0 C572.5,168.1 569.8,170.6 567.5,171.2 C565.2,171.9 562.5,170.6 560.0,168.8 C557.5,166.9 554.8,163.5 552.5,160.0 C550.2,156.5 547.9,151.2 546.2,147.5 C544.6,143.8 542.9,140.2 542.5,137.5 C542.1,134.8 542.3,132.9 543.8,131.2Z"/>
<path d="M97,85 L99.6,91.75 L97,98.5 L94.4,91.75Z"/>
<path d="M153,147 C157,147 160,153 160,160 C160,167 157,173 153,173 C149,173 146.75,167 146.75,160 C146.75,153 149,147 153,147Z"/>
<path d="M222.5,76.2 C224.7,76.1 227.8,77.7 230.0,80.0 C232.2,82.3 234.3,86.2 236.0,90.0 C237.7,93.8 239.8,98.3 240.0,102.5 C240.2,106.7 239.2,111.3 237.5,115.0 C235.8,118.7 232.8,124.1 230.0,124.5 C227.2,124.9 223.3,120.8 221.0,117.5 C218.7,114.2 217.1,109.2 216.0,105.0 C214.9,100.8 214.3,96.5 214.5,92.5 C214.7,88.5 215.7,83.7 217.0,81.0 C218.3,78.3 220.3,76.4 222.5,76.2Z"/>
<path d="M357.0,60.0 C357.0,61.8 356.9,63.9 357.0,71.0 C357.1,78.1 356.4,93.5 357.5,102.5 C358.6,111.5 361.2,118.6 363.8,125.0 C366.2,131.4 369.8,137.5 372.5,141.0 C375.2,144.5 377.3,145.9 380.0,145.8 C382.7,145.6 385.0,145.1 388.8,140.0 C392.5,134.9 397.7,123.3 402.5,115.0 C407.3,106.7 413.4,97.3 417.5,90.0 C421.6,82.7 424.6,76.0 427.0,71.0 C429.4,66.0 431.2,61.8 432.0,60.0Z"/>
<path d="M503.0,60.0 C503.0,61.8 502.9,64.8 503.0,71.0 C503.1,77.2 503.0,90.6 503.8,97.5 C504.5,104.4 505.2,108.7 507.5,112.5 C509.8,116.3 514.6,120.3 517.5,120.5 C520.4,120.7 523.3,117.6 525.0,113.8 C526.7,109.9 527.3,102.7 527.5,97.5 C527.7,92.3 526.8,86.9 526.2,82.5 C525.8,78.1 525.0,74.8 524.5,71.0 C524.0,67.2 523.2,61.8 523.0,60.0Z"/>
<path d="M481.2,179.2 C484.2,179.4 487.5,181.0 490.0,183.0 C492.5,185.0 494.8,188.2 496.0,191.0 C497.2,193.8 497.2,196.4 497.0,200.0 C496.8,203.6 496.2,207.9 495.0,212.5 C493.8,217.1 492.1,222.7 490.0,227.5 C487.9,232.3 485.2,238.1 482.5,241.2 C479.8,244.4 476.7,246.0 473.8,246.2 C470.8,246.5 467.1,244.8 465.0,242.5 C462.9,240.2 462.1,237.1 461.2,232.5 C460.4,227.9 460.0,220.4 460.0,215.0 C460.0,209.6 460.4,204.2 461.2,200.0 C462.1,195.8 463.2,193.0 465.0,190.0 C466.8,187.0 469.3,183.8 472.0,182.0 C474.7,180.2 478.2,179.1 481.2,179.2Z"/>
<path d="M97.5,219 C102,220.5 107.5,229 108,240 C108,249 103,258 98,260.5 C93,258 88.5,249 88.5,240 C88.5,229 93,220.5 97.5,219Z"/>
<path d="M108.8,306.2 C104.8,307.1 101.9,310.0 100.0,314.0 C98.1,318.0 97.8,324.8 97.5,330.0 C97.2,335.2 97.2,340.2 98.0,345.0 C98.8,349.8 100.5,355.0 102.5,358.8 C104.5,362.5 106.9,365.4 110.0,367.5 C113.1,369.6 117.5,371.5 121.2,371.2 C125.0,371.0 129.4,369.0 132.5,366.2 C135.6,363.5 138.2,359.4 140.0,355.0 C141.8,350.6 142.8,344.6 143.0,340.0 C143.2,335.4 142.6,331.2 141.2,327.5 C139.9,323.8 137.9,320.6 135.0,317.5 C132.1,314.4 128.4,310.9 124.0,309.0 C119.6,307.1 112.8,305.4 108.8,306.2Z"/>
<path d="M305.0,458.0 C305.0,456.0 305.4,451.1 305.0,446.0 C304.6,440.9 302.5,433.1 302.5,427.5 C302.5,421.9 303.8,417.1 305.0,412.5 C306.2,407.9 307.5,404.2 310.0,400.0 C312.5,395.8 316.2,391.2 320.0,387.5 C323.8,383.8 328.8,380.2 332.5,377.5 C336.2,374.8 338.8,373.1 342.5,371.2 C346.2,369.4 350.4,368.1 355.0,366.2 C359.6,364.4 365.4,362.1 370.0,360.0 C374.6,357.9 379.0,355.2 382.5,353.8 C386.0,352.3 387.9,350.8 391.2,351.2 C394.6,351.7 399.0,353.5 402.5,356.2 C406.0,359.0 409.6,363.1 412.5,367.5 C415.4,371.9 417.7,376.7 420.0,382.5 C422.3,388.3 424.2,396.2 426.2,402.5 C428.3,408.8 430.2,415.4 432.5,420.0 C434.8,424.6 437.5,427.7 440.0,430.0 C442.5,432.3 445.0,433.8 447.5,433.8 C450.0,433.8 452.5,432.7 455.0,430.0 C457.5,427.3 460.0,421.7 462.5,417.5 C465.0,413.3 467.5,408.3 470.0,405.0 C472.5,401.7 474.6,399.2 477.5,397.5 C480.4,395.8 484.2,394.1 487.5,394.5 C490.8,394.9 494.8,397.0 497.5,400.0 C500.2,403.0 502.2,408.3 503.8,412.5 C505.3,416.7 506.5,420.4 507.0,425.0 C507.5,429.6 507.2,435.5 506.5,440.0 C505.8,444.5 504.0,449.0 503.0,452.0 C502.0,455.0 500.9,457.0 500.5,458.0Z"/>
</g>
<g fill="none" stroke="#000" stroke-width="1.4" stroke-linejoin="miter">
<path d="M35.6,449.6 L35.6,83.2 L563.8,83.2 M35.6,449.6 L616.3,449.6 M35.5,126.8 L125.5,126.8 M121.8,83.0 L121.8,116.8 L125.5,116.8 L125.5,157.5 L128.8,158.8 L130.6,175.0 L130.6,187.6 M125.5,137.4 L196.2,137.4 M176.3,137.5 L176.3,116.5 L182.6,116.5 L182.6,106.6 L192.7,106.6 M192.7,83.2 L192.7,116.5 L206.6,116.5 L206.6,147.3 L267.7,147.3 M233.8,83.0 L233.8,117.5 L237.0,117.5 L237.0,137.5 L267.5,137.5 M267.5,127.5 L267.5,157.5 L271.2,157.5 L271.2,200.0 L273.8,200.0 L273.8,221.2 M267.5,127.5 L318.0,127.5 L318.0,137.5 L388.8,137.5 M328.5,137.5 L328.5,158.4 L331.0,158.4 L331.0,199.5 L334.0,199.5 L334.0,221.2 M335.8,83.0 L335.8,116.8 L338.8,116.8 L338.8,137.5 M196.2,137.5 L196.2,157.5 L200.0,157.5 L200.5,200.0 L204.2,200.0 L204.2,221.2 M386.2,83.0 L386.2,116.8 L388.8,116.8 L388.8,158.2 M427.5,83.0 L427.5,116.8 L429.5,116.8 L429.5,158.2 M361.8,158.2 L429.5,158.2 M361.9,158.2 L361.9,200.4 L364.9,200.4 L364.9,221.2 M411.4,158.2 L411.4,184.3 L420.6,190.4 L421.0,195.0 L422.9,200.3 L424.4,198.0 L426.7,197.2 L428.2,203.3 L432.8,202.6 L434.3,200.3 L436.6,201.0 L441.9,195.7 L444.2,198.8 L445.0,202.6 L446.5,203.3 L443.4,208.7 L451.8,202.6 L453.3,203.3 L456.4,212.5 L464.2,212.8 M429.5,137.5 L570.0,137.5 M480.0,137.5 L481.8,180.0 M471.6,180.0 L571.0,180.0 M471.6,180.0 L471.6,200.6 L464.2,200.6 L464.2,241.8 L465.8,241.8 L465.8,283.8 L468.2,283.8 L468.2,325.0 L471.2,325.0 L471.2,366.8 M510.0,83.0 L510.0,137.5 M164.5,221.2 L464.2,221.2 M164.9,221.2 L162.6,231.0 L144.3,224.0 M162.6,231.0 L172.9,228.7 L174.0,234.4 L175.0,247.5 M143.6,241.8 L144.3,224.0 L144.3,211.6 L150.0,202.4 L147.7,197.9 L143.0,196.7 L142.0,193.3 L138.6,192.0 L135.0,188.7 L130.6,187.6 L103.0,187.6 L98.6,191.0 L97.4,195.6 L87.0,197.9 L78.0,201.3 L73.8,195.5 L71.3,190.0 L70.7,187.9 L66.2,191.0 L63.1,198.6 L60.1,195.5 L55.5,203.8 L52.4,200.1 L46.3,207.7 L41.8,202.6 L37.2,203.8 L35.6,204.5 M108.8,241.8 L143.8,241.8 M108.8,241.8 L108.8,283.8 M35.5,283.8 L113.8,283.8 M65.0,283.8 L65.0,325.0 L69.2,325.0 L69.2,366.8 M113.8,283.8 L113.8,325.0 M98.8,366.8 L98.8,324.5 L153.7,324.5 L153.7,321.7 L182.9,321.7 M175.0,247.5 L179.5,254.5 L191.2,254.5 L192.5,257.5 L207.5,263.2 L218.8,258.8 L237.9,255.6 L243.0,260.1 L237.9,266.4 L243.9,279.3 L245.6,286.1 L251.0,289.5 L256.7,292.1 L258.4,289.2 L269.6,289.2 L273.0,293.9 L274.7,303.3 L278.0,311.0 L281.6,318.7 L276.4,324.7 L279.0,335.0 L281.2,337.5 L283.5,343.0 L286.2,346.2 L284.5,349.5 L288.0,352.0 L287.0,356.0 L291.0,357.5 L292.5,361.5 L296.0,359.5 L298.8,361.2 L298.0,365.0 L300.0,366.2 L306.2,375.0 L303.8,390.0 L306.2,402.5 L303.8,415.0 L301.2,427.5 L305.0,437.5 L301.0,439.0 L306.2,442.5 L307.0,449.6 M179.5,254.5 L180.0,283.8 L182.9,284.5 L182.9,324.3 M212.9,294.3 L256.0,293.6 M212.9,294.3 L212.9,324.3 M182.9,324.3 L276.6,324.5 M302.5,221.2 L302.5,241.8 L297.5,241.8 L297.5,283.8 M291.8,283.8 L468.2,283.8 M291.8,283.8 L291.8,304.2 L273.8,304.2 M344.5,221.2 L344.5,241.5 L347.0,241.5 L347.0,283.8 M404.2,221.2 L404.2,252.5 L406.2,252.5 L406.2,283.8 M406.2,252.5 L465.8,252.5 M465.8,241.8 L591.2,241.8 M468.2,293.2 L595.0,293.2 M511.2,180.0 L513.2,241.8 M505.8,241.8 L505.8,283.8 L507.5,283.8 L507.5,293.2 M545.8,241.8 L545.8,283.8 L547.0,283.8 L547.0,293.2 M527.5,293.2 L528.2,366.8 M341.2,283.8 L341.2,324.5 L343.2,324.5 L343.2,366.8 M390.0,283.8 L390.0,325.0 L392.0,325.0 L392.0,366.8 M54.5,366.8 L190.6,366.8 L190.6,407.5 L195.0,407.5 L195.0,449.6 M216.3,366.8 L249.5,366.8 L249.5,397.0 L268.8,397.0 L268.8,405.0 M54.5,366.8 L53.8,377.5 L35.5,378.0 M122.5,366.8 L122.5,409.2 M35.5,409.2 L156.2,409.2 L156.2,417.5 L194.2,417.5 M117.0,409.2 L117.0,449.6 M186.7,324.3 L186.7,366.8 M186.7,356.6 L216.3,356.6 L216.3,366.8 M300.0,366.8 L598.8,366.8 M306.0,391.9 L294.4,395.7 L293.1,393.7 L288.0,395.7 L281.6,393.7 L276.4,402.1 L271.3,403.4 L270.0,407.3 L264.9,411.1 L263.6,415.0 L257.1,420.1 L255.9,424.0 L249.4,426.6 L248.1,430.4 L235.3,435.6 L234.0,438.1 L228.9,440.7 L222.4,438.1 L218.6,439.4 L213.4,437.4 L207.0,438.1 L205.7,434.3 L195.0,435.6 M356.2,366.8 L356.2,408.8 L562.0,408.8 M358.8,408.8 L358.8,449.6 M424.2,366.8 L424.2,408.8 L426.8,408.8 L426.8,449.6 M502.5,366.8 L502.5,408.8 M560.5,366.8 L560.5,408.8 L562.0,408.8 L562.0,442.7 L564.5,442.7 L564.5,449.6"/>
<path stroke-width="1.5" d="M563.8,83.0 L563.8,85.4 L565.3,87.5 L565.3,90.0 L564.7,92.9 L567.2,94.8 L567.4,97.5 L567.4,99.8 L568.7,101.8 L569.0,104.0 L570.0,105.9 L568.9,108.1 L569.9,110.0 L570.6,112.0 L571.1,114.1 L571.9,116.0 L573.2,118.0 L574.4,120.0 L574.1,122.4 L573.8,125.2 L573.6,127.7 L572.1,130.0 L571.3,132.5 L569.8,134.8 L569.8,137.4 L571.7,139.8 L572.1,142.3 L571.8,144.9 L572.8,147.4 L571.3,150.1 L572.6,152.5 L572.9,154.8 L571.9,156.8 L570.3,158.7 L571.2,161.0 L570.0,163.3 L571.7,165.5 L571.8,167.7 L571.4,170.0 L571.1,172.1 L571.2,174.1 L571.3,176.1 L572.6,178.0 L571.7,180.3 L572.2,182.7 L572.3,185.0 L574.2,187.2 L573.9,190.0 L574.5,191.9 L575.9,193.7 L574.9,196.1 L575.9,198.0 L576.5,200.5 L577.4,202.8 L578.7,205.0 L579.3,207.0 L579.5,209.0 L580.3,210.9 L579.8,213.0 L581.8,215.0 L580.6,218.0 L582.3,220.1 L582.8,222.5 L584.5,224.5 L584.7,227.1 L585.6,228.9 L587.0,230.5 L587.5,232.5 L587.4,234.8 L590.1,236.1 L589.6,238.5 L591.1,240.3 L591.2,242.5 L590.4,245.1 L592.1,247.5 L592.2,250.0 L593.6,252.3 L592.4,255.2 L593.9,257.5 L593.4,260.0 L593.1,262.5 L593.4,265.0 L592.6,267.6 L592.7,270.1 L593.9,272.5 L593.1,274.9 L593.3,277.3 L594.1,279.6 L593.9,282.0 L594.9,283.9 L593.9,286.1 L595.5,287.9 L595.1,290.0 L594.2,292.0 L594.0,294.0 L594.5,296.0 L595.0,298.0 L594.7,300.4 L594.5,302.7 L595.3,305.0 L595.9,307.0 L594.9,309.1 L594.7,311.1 L596.2,313.0 L596.6,315.3 L597.6,317.6 L596.3,320.0 L598.4,321.5 L598.7,323.9 L599.4,326.3 L599.7,328.7 L600.5,331.0 L599.6,333.1 L601.7,335.0 L601.4,337.0 L601.0,339.0 L601.2,341.0 L600.3,343.0 L601.9,345.1 L599.3,346.9 L599.6,348.9 L599.0,350.9 L599.9,353.0 L599.7,355.3 L600.2,357.6 L600.5,360.0 L599.3,362.2 L599.3,364.5 L598.5,366.7 L600.4,368.9 L600.3,371.8 L601.8,374.0 L602.9,376.2 L602.5,378.5 L603.7,380.8 L602.6,383.1 L603.6,385.4 L602.8,387.7 L604.3,389.6 L605.1,391.8 L607.3,393.0 L607.7,395.5 L609.1,397.3 L610.3,399.2 L612.7,400.2 L612.0,403.2 L614.0,404.5 L614.4,406.6 L613.8,408.7 L614.9,410.8 L614.9,412.9 L614.4,415.0 L614.8,417.1 L614.4,419.2 L614.3,421.3 L614.5,423.5 L614.6,425.6 L616.2,427.5 L615.2,429.8 L617.0,431.6 L616.8,433.9 L616.5,436.0 L615.8,438.1 L614.8,440.1 L616.2,442.4 L614.8,445.0 L616.7,447.1 L616.1,449.6"/>
</g>
<text x="49.2" y="92.7" font-size="9.6" stroke="#000" stroke-width="0.25" text-anchor="middle" transform="rotate(65 49.2 89.3)">1</text>
<text x="146.75" y="163.4" font-size="9.6" stroke="#000" stroke-width="0.25" text-anchor="middle" transform="rotate(-90 146.75 160)">2</text>
<text x="118.2" y="184.8" font-size="9.6" stroke="#000" stroke-width="0.25" text-anchor="middle" transform="rotate(-74 118.2 181.4)">0</text>
<text x="222.9" y="122.4" font-size="9.6" stroke="#000" stroke-width="0.25" text-anchor="middle" transform="rotate(38 222.9 119.0)">2</text>
<text x="258.0" y="88.4" font-size="9.6" stroke="#000" stroke-width="0.25" text-anchor="middle" transform="rotate(-90 258.0 85.0)">1</text>
<text x="277.3" y="87.9" font-size="9.6" stroke="#000" stroke-width="0.25" text-anchor="middle" transform="rotate(-72 277.3 84.5)">0</text>
<text x="228.5" y="162.6" font-size="9.6" stroke="#000" stroke-width="0.25" text-anchor="middle" transform="rotate(60 228.5 159.2)">1</text>
<text x="346.2" y="157.3" font-size="9.6" stroke="#000" stroke-width="0.25" text-anchor="middle" transform="rotate(81 346.2 153.9)">1</text>
<text x="419.3" y="89.80000000000001" font-size="9.6" stroke="#000" stroke-width="0.25" text-anchor="middle" transform="rotate(-63 419.3 86.4)">2</text>
<text x="526.5" y="88.30000000000001" font-size="9.6" stroke="#000" stroke-width="0.25" text-anchor="middle" transform="rotate(85 526.5 84.9)">2</text>
<text x="607.2" y="103.80000000000001" font-size="9.6" stroke="#000" stroke-width="0.25" text-anchor="middle" transform="rotate(32 607.2 100.4)">1</text>
<text x="562.9" y="135.0" font-size="9.6" stroke="#000" stroke-width="0.25" text-anchor="middle" transform="rotate(45 562.9 131.6)">-1</text>
<text x="536.5" y="157.8" font-size="9.6" stroke="#000" stroke-width="0.25" text-anchor="middle" transform="rotate(72 536.5 154.4)">0</text>
<text x="515.1" y="164.70000000000002" font-size="9.6" stroke="#000" stroke-width="0.25" text-anchor="middle" transform="rotate(-70 515.1 161.3)">1</text>
<text x="606.5" y="178.8" font-size="9.6" stroke="#000" stroke-width="0.25" text-anchor="middle" transform="rotate(14 606.5 175.4)">0</text>
<text x="180.6" y="217.8" font-size="9.6" stroke="#000" stroke-width="0.25" text-anchor="middle" transform="rotate(-67 180.6 214.4)">0</text>
<text x="129.0" y="237.1" font-size="9.6" stroke="#000" stroke-width="0.25" text-anchor="middle" transform="rotate(81 129.0 233.7)">1</text>
<text x="88.75" y="248.4" font-size="9.6" stroke="#000" stroke-width="0.25" text-anchor="middle" transform="rotate(-90 88.75 245)">2</text>
<text x="39.5" y="252.5" font-size="9.6" stroke="#000" stroke-width="0.25" text-anchor="middle" transform="rotate(-72 39.5 249.1)">0</text>
<text x="59.8" y="295.59999999999997" font-size="9.6" stroke="#000" stroke-width="0.25" text-anchor="middle" transform="rotate(-82 59.8 292.2)">1</text>
<text x="300.1" y="220.70000000000002" font-size="9.6" stroke="#000" stroke-width="0.25" text-anchor="middle" transform="rotate(48 300.1 217.3)">1</text>
<text x="224.0" y="294.7" font-size="9.6" stroke="#000" stroke-width="0.25" text-anchor="middle" transform="rotate(-79 224.0 291.3)">0</text>
<text x="257.3" y="300.09999999999997" font-size="9.6" stroke="#000" stroke-width="0.25" text-anchor="middle" transform="rotate(-83 257.3 296.7)">1</text>
<text x="424.25" y="269.65" font-size="9.6" stroke="#000" stroke-width="0.25" text-anchor="middle" transform="rotate(90 424.25 266.25)">0</text>
<text x="433.4" y="222.3" font-size="9.6" stroke="#000" stroke-width="0.25" text-anchor="middle" transform="rotate(66 433.4 218.9)">1</text>
<text x="461.9" y="237.5" font-size="9.6" stroke="#000" stroke-width="0.25" text-anchor="middle" transform="rotate(69 461.9 234.1)">2</text>
<text x="597.2" y="261.5" font-size="9.6" stroke="#000" stroke-width="0.25" text-anchor="middle" transform="rotate(-82 597.2 258.1)">0</text>
<text x="510.4" y="309.7" font-size="9.6" stroke="#000" stroke-width="0.25" text-anchor="middle" transform="rotate(74 510.4 306.3)">1</text>
<text x="106.2" y="366.5" font-size="9.6" stroke="#000" stroke-width="0.25" text-anchor="middle" transform="rotate(49 106.2 363.1)">2</text>
<text x="66.2" y="441.4" font-size="9.6" stroke="#000" stroke-width="0.25" text-anchor="middle" transform="rotate(60 66.2 438.0)">1</text>
<text x="381.3" y="327.7" font-size="9.6" stroke="#000" stroke-width="0.25" text-anchor="middle" transform="rotate(-9 381.3 324.3)">1</text>
<text x="400.2" y="358.59999999999997" font-size="9.6" stroke="#000" stroke-width="0.25" text-anchor="middle" transform="rotate(24 400.2 355.2)">2</text>
<text x="479.0" y="400.5" font-size="9.6" stroke="#000" stroke-width="0.25" text-anchor="middle" transform="rotate(-17 479.0 397.1)">2</text>
<text x="574.0" y="344.0" font-size="9.6" stroke="#000" stroke-width="0.25" text-anchor="middle" transform="rotate(63 574.0 340.6)">1</text>
<text x="591.5" y="409.5" font-size="9.6" stroke="#000" stroke-width="0.25" text-anchor="middle" transform="rotate(-43 591.5 406.1)">0</text>
</g>
<rect x="626.3" y="154.1" width="16.4" height="52.80" fill="#ff0000" stroke="#222" stroke-width="0.7"/>
<rect x="626.3" y="206.9" width="16.4" height="52.50" fill="#ffff00" stroke="#222" stroke-width="0.7"/>
<rect x="626.3" y="259.4" width="16.4" height="52.60" fill="#00ff00" stroke="#222" stroke-width="0.7"/>
<rect x="626.3" y="312.0" width="16.4" height="52.70" fill="#00ffff" stroke="#222" stroke-width="0.7"/>
<rect x="626.3" y="364.7" width="16.4" height="52.60" fill="#0000ff" stroke="#222" stroke-width="0.7"/>
<text x="646" y="160.7" font-size="14">3</text>
<text x="646" y="211.7" font-size="14">2</text>
<text x="646" y="264.2" font-size="14">1</text>
<text x="646" y="316.8" font-size="14">0</text>
<text x="646" y="369.5" font-size="14">-1</text>
<text x="646" y="422.1" font-size="14">-2</text>
<text x="226.2" y="22.8" font-size="15.4" textLength="193.6" lengthAdjust="spacingAndGlyphs">North Dakota August 2013</text>
<text x="69" y="44.0" font-size="15.5" textLength="522.5" lengthAdjust="spacingAndGlyphs">Departure From Normal Monthly Average Air Temperature in Degrees F</text>
<text x="140.3" y="61.3" font-size="12.6" textLength="374.5" lengthAdjust="spacingAndGlyphs">(Data from North Dakota Agricultural Weather Network (NDAWN))</text>
<text x="34.2" y="474.9" font-size="14.4" textLength="155.6" lengthAdjust="spacingAndGlyphs">ND State Climate Office</text>
</svg>
</body></html>
